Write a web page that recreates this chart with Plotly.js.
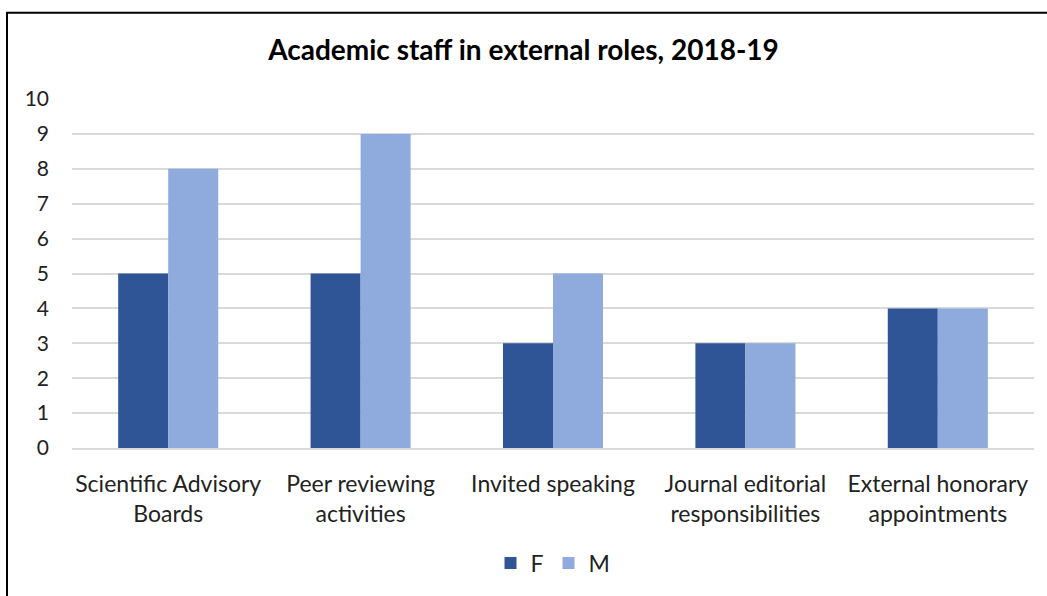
<!DOCTYPE html>
<html><head><meta charset="utf-8">
<script src="https://cdn.plot.ly/plotly-3.0.1.min.js"></script>
<style>html,body{margin:0;padding:0;background:#fff;}</style>
</head><body>
<div id="chart" style="width:1047px;height:596px;"></div>
<script>
const categories = ["Scientific Advisory<br>Boards", "Peer reviewing<br>activities", "Invited speaking", "Journal editorial<br>responsibilities", "External honorary<br>appointments"];
const seriesF = [5, 5, 3, 3, 4];
const seriesM = [8, 9, 5, 3, 4];
const yTicks = [0,1,2,3,4,5,6,7,8,9,10];

const W = 1047, H = 596, L = 72, R = 13, T = 99, B = 145;
const pw = W - L - R, ph = H - T - B;
const px = v => (v - L) / pw;
const py = v => (H - B - v) / ph;

const font = "Lato, 'Open Sans', sans-serif";
const data = [
  {type:'bar', name:'F', x:categories, y:seriesF, marker:{color:'#2F5597'}},
  {type:'bar', name:'M', x:categories, y:seriesM, marker:{color:'#8FAADC'}}
];
const layout = {
  width:W, height:H,
  margin:{l:L, r:R, t:T, b:B},
  paper_bgcolor:'#fff', plot_bgcolor:'#fff',
  font:{family:font, size:23, color:'#222'},
  title:{text:'<b>Academic staff in external roles, 2018-19</b>', x:0.5, xanchor:'center', y:1-50/H, yanchor:'middle', font:{family:font, size:28, color:'#000'}},
  barmode:'group', bargap:0.48, bargroupgap:0,
  xaxis:{showgrid:false, showline:true, linecolor:'#D9D9D9', linewidth:2, ticks:'', ticklabelstandoff:14, tickfont:{size:23, color:'#222'}},
  yaxis:{range:[0,10], tickvals:yTicks, showgrid:true, gridcolor:'#D9D9D9', gridwidth:2, zeroline:false, ticks:'', ticklabelstandoff:22, tickfont:{size:21, color:'#222'}},
  legend:{orientation:'h', x:0.5, xanchor:'center', y:py(567), yanchor:'middle', font:{size:23, color:'#222'}, itemwidth:30, traceorder:'normal'},
  shapes:[{type:'rect', xref:'paper', yref:'paper', x0:px(7), x1:px(1070), y0:py(620), y1:py(12), line:{color:'#000', width:2}, layer:'above'}]
};
Plotly.newPlot('chart', data, layout, {displayModeBar:false, staticPlot:true});
</script>
</body></html>
